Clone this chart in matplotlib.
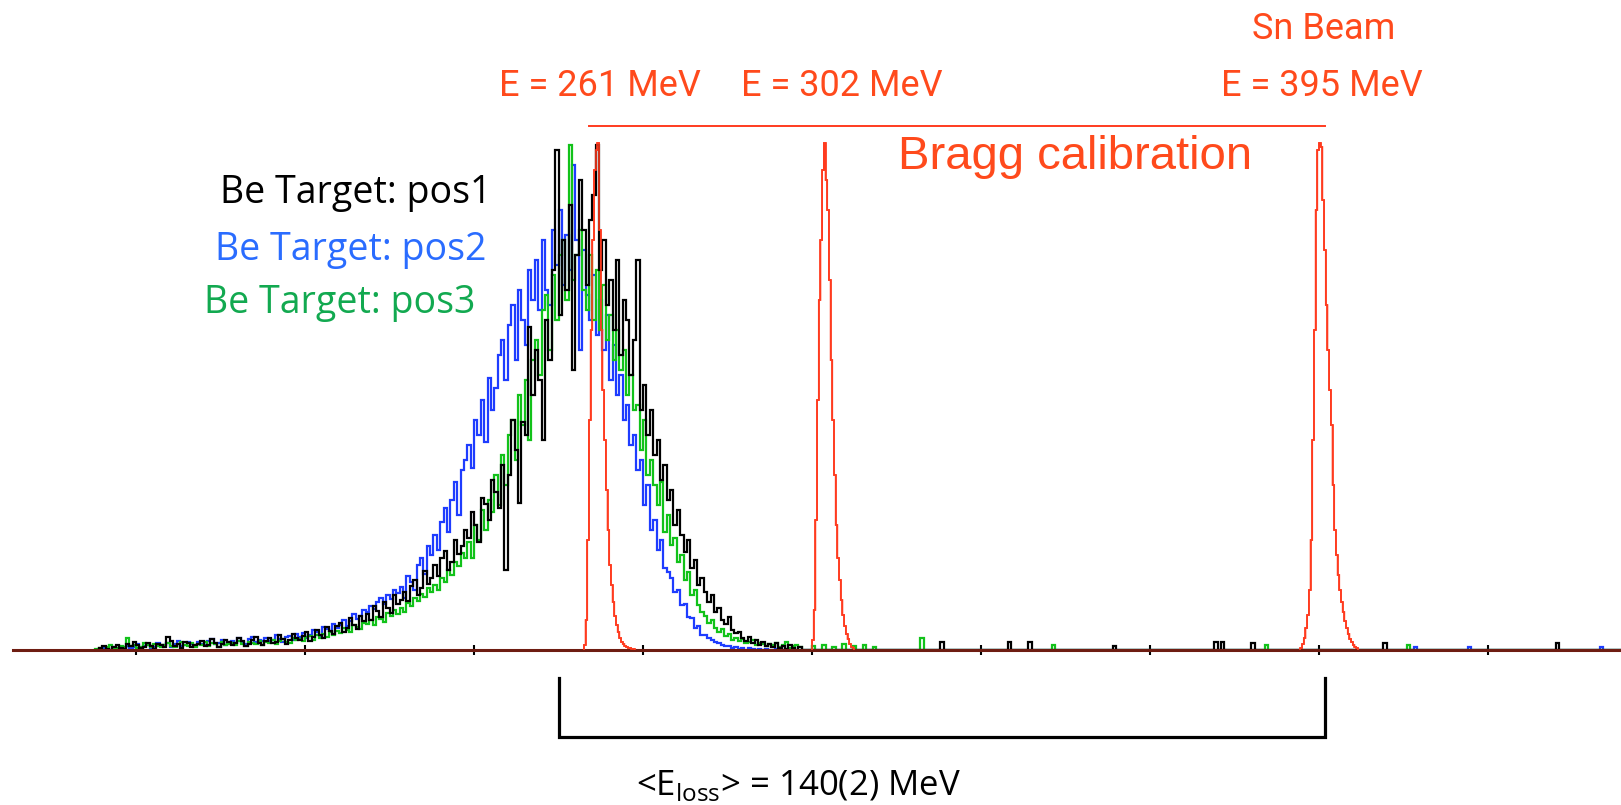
import numpy as np
import matplotlib
matplotlib.use("Agg")
import matplotlib.pyplot as plt

plt.rcParams['font.family'] = ['Open Sans', 'DejaVu Sans']
plt.rcParams['mathtext.fontset'] = 'custom'
plt.rcParams['mathtext.rm'] = 'Open Sans'

# Be target spectra: 2-channel bins starting at channel 76 (counts)
be_start = 76
pos1 = [0, 2, 4, 1, 0, 3, 5, 2, 1, 6,
        4, 8, 5, 2, 3, 7, 4, 1, 6, 5,
        3, 13, 9, 4, 6, 2, 8, 7, 3, 5,
        6, 9, 4, 5, 11, 7, 3, 6, 10, 8,
        5, 7, 12, 9, 4, 6, 10, 13, 7, 5,
        9, 12, 7, 8, 15, 11, 6, 10, 16, 12,
        10, 14, 18, 9, 13, 20, 15, 12, 23, 19,
        16, 24, 27, 18, 22, 32, 25, 21, 34, 29,
        36, 30, 44, 39, 33, 48, 42, 37, 55, 46,
        50, 58, 49, 64, 70, 55, 62, 79, 66, 72,
        85, 74, 92, 99, 80, 88, 110, 96, 104, 120,
        112, 138, 125, 108, 152, 146, 130, 170, 158, 142,
        185, 80, 175, 230, 200, 147, 228, 215, 323, 255,
        300, 270, 210, 330, 290, 380, 500, 335, 410, 360,
        445, 280, 395, 470, 420, 365, 430, 455, 505, 380,
        410, 345, 370, 320, 390, 295, 350, 330, 275, 310,
        390, 240, 265, 215, 240, 195, 210, 170, 185, 150,
        160, 125, 140, 115, 98, 110, 82, 90, 65, 72,
        58, 48, 55, 38, 42, 30, 26, 33, 20, 17,
        18, 12, 9, 13, 7, 10, 5, 8, 4, 6,
        3, 7, 2, 4, 1, 5, 2, 0, 3]
pos2 = [0, 1, 2, 0, 0, 3, 1, 2, 0, 4,
        2, 3, 6, 1, 4, 5, 2, 3, 7, 4,
        5, 7, 3, 6, 9, 4, 5, 8, 6, 4,
        8, 6, 5, 9, 11, 6, 7, 10, 5, 8,
        9, 7, 12, 8, 6, 11, 13, 8, 10, 9,
        12, 9, 10, 15, 11, 8, 13, 14, 10, 16,
        13, 17, 12, 15, 20, 18, 14, 23, 21, 19,
        26, 22, 25, 30, 24, 29, 36, 31, 34, 40,
        38, 44, 41, 48, 52, 46, 55, 51, 60, 57,
        63, 52, 74, 68, 60, 85, 92, 76, 104, 95,
        115, 100, 128, 142, 118, 150, 168, 135, 180, 190,
        205, 182, 230, 215, 250, 208, 272, 240, 262, 295,
        310, 270, 325, 345, 290, 360, 330, 305, 380, 350,
        390, 340, 410, 360, 345, 420, 385, 440, 365, 415,
        380, 485, 410, 300, 400, 355, 330, 375, 315, 350,
        300, 335, 270, 305, 255, 275, 230, 245, 205, 215,
        180, 190, 145, 165, 120, 130, 100, 110, 82, 78,
        72, 58, 60, 45, 46, 33, 32, 22, 24, 15,
        15, 12, 10, 8, 7, 5, 4, 4, 2, 3,
        1, 2, 0, 2, 1, 0, 1, 0, 1, 0,
        0, 1, 0, 0, 1, 0, 0, 0, 0]
pos3 = [1, 2, 0, 3, 5, 1, 2, 4, 3, 12,
        4, 5, 2, 3, 7, 5, 3, 6, 4, 3,
        5, 7, 4, 3, 6, 8, 5, 4, 7, 3,
        6, 5, 8, 4, 7, 6, 3, 8, 5, 6,
        7, 5, 9, 6, 4, 8, 7, 6, 9, 5,
        8, 7, 10, 6, 9, 11, 8, 7, 12, 10,
        11, 9, 13, 14, 10, 15, 12, 16, 13, 18,
        15, 19, 17, 22, 20, 18, 25, 23, 21, 27,
        26, 30, 25, 33, 31, 28, 37, 34, 40, 36,
        42, 38, 47, 44, 52, 49, 56, 53, 62, 58,
        65, 60, 72, 68, 80, 75, 88, 84, 97, 92,
        108, 92, 125, 110, 140, 120, 150, 138, 175, 145,
        195, 165, 215, 230, 190, 255, 225, 270, 210, 290,
        310, 275, 340, 355, 300, 375, 330, 395, 410, 350,
        505, 370, 395, 420, 360, 340, 395, 330, 380, 320,
        365, 310, 335, 290, 320, 280, 300, 255, 275, 240,
        245, 200, 230, 175, 190, 165, 145, 168, 118, 135,
        105, 112, 88, 95, 70, 78, 55, 60, 45, 38,
        34, 27, 30, 22, 18, 21, 14, 16, 10, 12,
        9, 11, 7, 8, 10, 5, 7, 6, 4, 6,
        5, 7, 3, 5, 8, 2, 4, 5, 3]

# isolated counts further right (channel, counts)
pos1_tail = [(576, 8), (616, 8), (628, 8), (678, 4), (738, 8), (742, 8), (760, 7), (838, 7), (940, 7)]
pos2_tail = [(856, 3), (888, 3), (966, 3)]
pos3_tail = [(500, 4), (506, 5), (512, 3), (518, 6), (524, 4), (530, 5), (536, 3),
             (564, 12), (642, 5), (768, 5), (852, 5)]

# Bragg calibration peaks: 1-channel bins (start channel, counts)
bragg_261 = (365, [5, 30, 110, 230, 320, 410, 480, 500, 507, 420, 320, 260, 210, 160, 120,
                   85, 65, 48, 34, 25, 18, 12, 8, 6, 4, 3, 2, 2, 1, 1])
bragg_302 = (500, [10, 40, 130, 250, 350, 410, 480, 507, 470, 440, 370, 290, 230, 175, 125,
                   92, 70, 50, 35, 24, 16, 11, 6, 3, 2])
bragg_395 = (789, [2, 6, 12, 22, 35, 60, 110, 210, 320, 440, 500, 507, 503, 450, 400, 345, 300,
                   260, 225, 165, 120, 95, 75, 60, 48, 38, 29, 22, 16, 11, 8, 5, 3, 2])

ch_min, ch_max = 27.2, 978.7
ticks = [100, 200, 300, 400, 500, 600, 700, 800, 900]
be_mean, beam_peak = 350.5, 803.6   # ends of the energy-loss bracket


def be_hist(main, tail):
    n = (980 - be_start) // 2
    counts = np.zeros(n)
    counts[:len(main)] = main
    for c, v in tail:
        counts[(c - be_start) // 2] = v
    edges = be_start + 2 * np.arange(n + 1)
    return counts, edges


W, H = 1621, 805
fig = plt.figure(figsize=(W / 100, H / 100), dpi=100)
ax = fig.add_axes([13 / W, 155 / H, (W - 13) / W, 650 / H])

# red zero line underneath everything
red_edges = np.arange(28, 981)
red_counts = np.zeros(len(red_edges) - 1)
for start, vals in (bragg_261, bragg_302, bragg_395):
    red_counts[start - 28:start - 28 + len(vals)] = vals
ax.stairs(red_counts, red_edges, color='#ff3b1f', lw=1.2, zorder=1.5)

for main, tail, col in ((pos2, pos2_tail, '#1e3cff'),
                        (pos3, pos3_tail, '#12c21a'),
                        (pos1, pos1_tail, 'black')):
    counts, edges = be_hist(main, tail)
    ax.stairs(counts, edges, color=col, lw=1.6, zorder=2)

# calibration peaks on top
for start, vals in (bragg_261, bragg_302, bragg_395):
    ax.stairs(vals, start + np.arange(len(vals) + 1), color='#ff3b1f', lw=1.2, zorder=3)

ax.set_xlim(ch_min, ch_max)
ax.set_ylim(0, 650)
for s in ['top', 'left', 'right']:
    ax.spines[s].set_visible(False)
ax.spines['bottom'].set_color('#6e1d12')
ax.spines['bottom'].set_linewidth(2.2)
ax.set_xticks(ticks)
ax.set_xticklabels([])
ax.set_yticks([])
ax.tick_params(axis='x', direction='inout', length=7, width=1.5, color='black')
ax.patch.set_alpha(0)

# Bragg line and energy-loss bracket
ax.plot([368, beam_peak], [524, 524], color='#ff3b1f', lw=1.4, clip_on=False)
ax.plot([be_mean, be_mean, beam_peak, beam_peak], [-28, -87, -87, -28],
        color='black', lw=2.3, clip_on=False, solid_joinstyle='miter')


def fx(px):
    return px / W


def fy(py):
    return 1 - py / H


red = '#ff4a1c'
cond = ['Roboto', 'DejaVu Sans']
fig.text(fx(1324), fy(29), 'Sn Beam', color=red, fontsize=26, family=cond, ha='center', va='center')
fig.text(fx(600), fy(86), 'E = 261 MeV', color=red, fontsize=26, family=cond, ha='center', va='center')
fig.text(fx(842), fy(86), 'E = 302 MeV', color=red, fontsize=26, family=cond, ha='center', va='center')
fig.text(fx(1322), fy(86), 'E = 395 MeV', color=red, fontsize=26, family=cond, ha='center', va='center')
fig.text(fx(1075), fy(157), 'Bragg calibration', color=red, fontsize=34,
         family=['Liberation Sans', 'DejaVu Sans'], ha='center', va='center')

fig.text(fx(220), fy(203), 'Be Target: pos1', color='black', fontsize=27, weight='medium',
         ha='left', va='baseline')
fig.text(fx(215), fy(260), 'Be Target: pos2', color='#2a6cff', fontsize=27, weight='medium',
         ha='left', va='baseline')
fig.text(fx(204), fy(313), 'Be Target: pos3', color='#12a950', fontsize=27, weight='medium',
         ha='left', va='baseline')

fig.text(fx(636), fy(795), r'<E$_{\mathrm{loss}}$> = 140(2) MeV', color='black', fontsize=25,
         ha='left', va='baseline')

fig.savefig('out.png', dpi=100)
